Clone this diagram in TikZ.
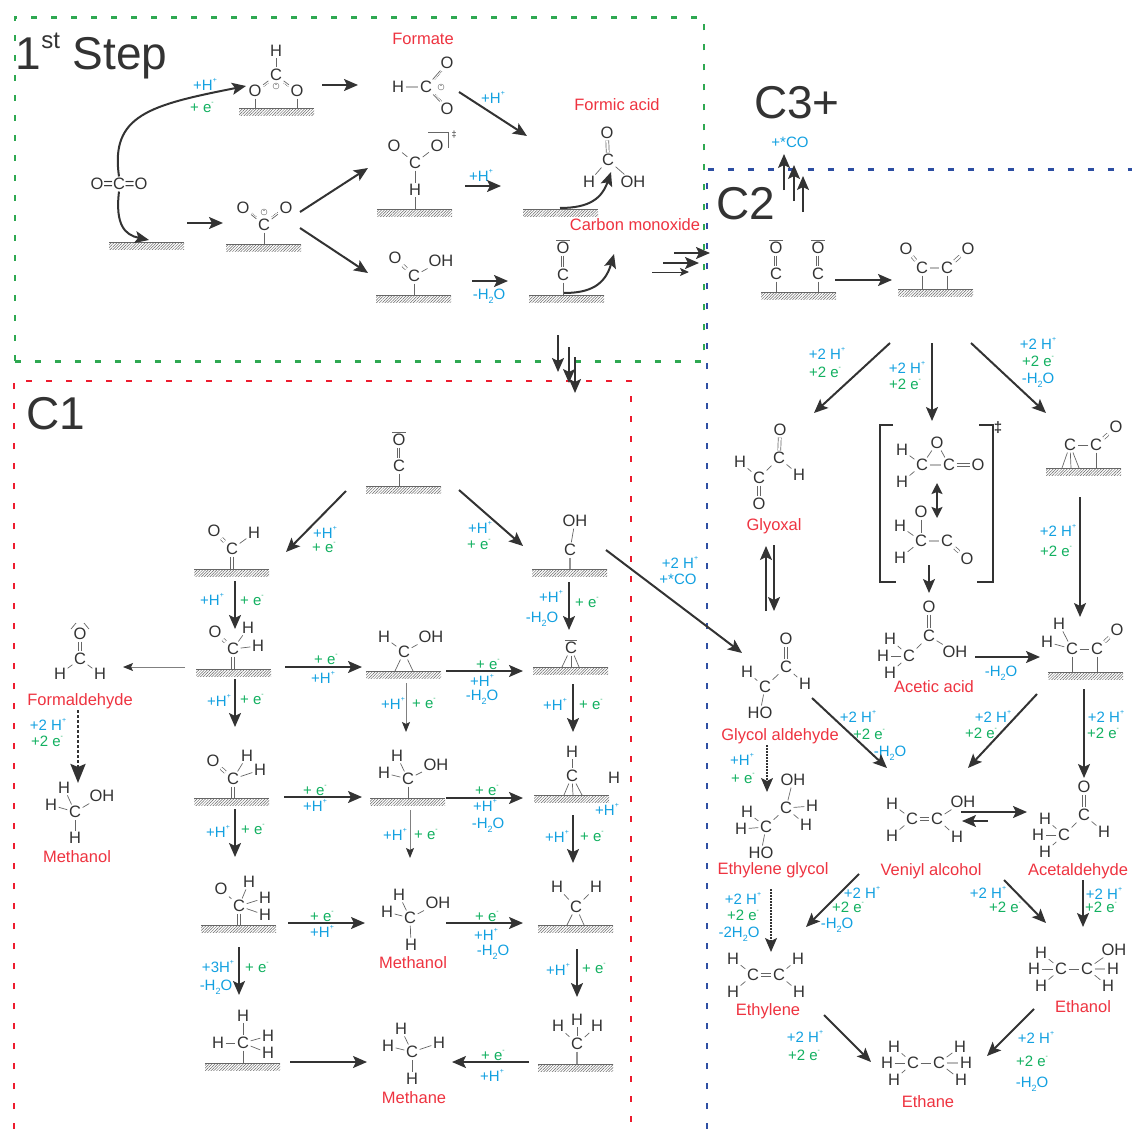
\documentclass[tikz,border=0pt]{standalone}
\usepackage{fontspec}
\setmainfont{Liberation Sans}
\usepackage{xcolor}
\usetikzlibrary{arrows.meta,patterns.meta}
\definecolor{inkdark}{HTML}{333333}
\definecolor{bondgray}{HTML}{666666}
\definecolor{namered}{HTML}{EE3340}
\definecolor{hblue}{HTML}{12A0E0}
\definecolor{egreen}{HTML}{12B060}
\definecolor{stepgreen}{HTML}{2EA851}
\definecolor{oneRed}{HTML}{ED1C2E}
\definecolor{twoBlue}{HTML}{2E4FA3}
\newcommand{\sups}[1]{\raisebox{.55em}{\fontsize{7}{7}\selectfont #1}}
\newcommand{\subs}[1]{\raisebox{-.25em}{\fontsize{9}{9}\selectfont #1}}
\newcommand{\hp}{\textcolor{hblue}{+H\sups{+}}}
\newcommand{\el}{\textcolor{egreen}{+ e\sups{-}}}
\newcommand{\wat}{\textcolor{hblue}{-H\subs{2}O}}
\newcommand{\twohp}{\textcolor{hblue}{+2 H\sups{+}}}
\newcommand{\twoel}{\textcolor{egreen}{+2 e\sups{-}}}
\begin{document}
\begin{tikzpicture}[
  x=1pt, y=-1pt,
  font=\fontsize{15}{17}\selectfont,
  atom/.style={inner sep=1.5pt, text=inkdark, font=\fontsize{16.5}{18}\selectfont},
  lab/.style={inner sep=0pt, text height=11pt, text depth=0pt},
  molname/.style={inner sep=0pt, text height=12pt, text depth=0pt, text=namered, font=\fontsize{16.5}{18}\selectfont},
  title/.style={inner sep=0pt, text height=33pt, text depth=0pt, text=inkdark, font=\fontsize{46}{50}\selectfont},
  surface/.style={anchor=north west, minimum width=75pt, minimum height=7pt, inner sep=0pt, outer sep=0pt, pattern={Lines[angle=45,distance=2pt,line width=.5pt]}, pattern color=bondgray},
  surfline/.style={draw=bondgray, line width=1pt},
  bond/.style={draw=bondgray, line width=.7pt},
  dbond/.style={bond, double, double distance=2.2pt},
  tbond/.style={bond, preaction={draw=bondgray, line width=.7pt, double, double distance=3pt}},
  lbond/.style={draw=bondgray!45, line width=1.5pt},
  hbond/.style={draw=bondgray!70, line width=2pt},
  pbond/.style={bond, postaction={draw=bondgray, line width=.7pt, densely dotted, transform canvas={shift={(#1)}}}},
  charge/.style={circle, draw=bondgray, line width=.4pt, minimum size=6pt, inner sep=0pt, font=\fontsize{6}{6}\selectfont},
  arrow/.style={draw=inkdark, line width=2pt, -{Stealth[length=14pt,width=12pt,inset=3pt]}},
  twoway/.style={draw=inkdark, line width=2pt, {Stealth[length=11pt,width=11pt,inset=2pt]}-{Stealth[length=11pt,width=11pt,inset=2pt]}},
  finearrow/.style={draw=inkdark, line width=1pt, -{Stealth[length=9pt,width=8pt,inset=2pt]}},
  grayarrow/.style={draw=gray, line width=1pt, -{Stealth[length=10pt,width=8pt,inset=2pt,color=inkdark]}},
  dotarrow/.style={draw=inkdark, line width=2.6pt, dash pattern=on 2.5pt off 2.5pt, -{Stealth[length=19pt,width=15pt,inset=3pt]}},
  finedot/.style={arrow, line width=1.2pt, dash pattern=on 1.5pt off 1.5pt},
  stepbox/.style={draw=stepgreen, line width=2.6pt, dash pattern=on 6pt off 14pt},
  onebox/.style={draw=oneRed, line width=2.6pt, dash pattern=on 6pt off 14pt},
  twobox/.style={draw=twoBlue, line width=2.6pt, dash pattern=on 6pt off 14pt},
  bracket/.style={draw=inkdark, line width=1.6pt}
]
  \useasboundingbox (0,0) rectangle (1132,1129);

  \node[stepbox, minimum width=689pt, minimum height=344pt, inner sep=0pt, anchor=north west] (stepframe) at (13.5,16) {};
  \draw[onebox] (14,1129) |- (631,381) -- (631,1129);
  \draw[twobox] (707,1129) |- (1132,169.5);

  \node[title] (steptitle) at (91.5,53) {1\raisebox{.46em}{\fontsize{24}{24}\selectfont st} Step};
  \node[title] (cthree) at (797,102) {C3+};
  \node[title] (ctwo) at (746,203) {C2};
  \node[title] (cone) at (56,413) {C1};

  \foreach \n/\x/\y in {sa/239/109, sb/109/242, sc/226/244, sd/377/209, se/523/209, sf/376/295, sg/529/295,
    sh/761/292, si/898/289, sj/1046/468, sk/1048/672,
    sl/366/486, sm/194/569, sn/532/569, so/196/669, sp/366/671, sq/533/667, sr/194/798, ss/370/798, st/534/795,
    su/201/925, sv/538/925, sw/205/1063, sx/538/1064}
  {
    \node[surface] (\n) at (\x,\y) {};
    \draw[surfline] (\n.north west) -- (\n.north east);
  }

  \node[atom] (co) at (119,184) {O=C=O};
  \foreach \n/\x/\y/\txt in {fH/276/51/H, fC/276/75/C, fOa/255/91/O, fOb/297/91/O,
    cOa/243/208/O, cOb/286/208/O, cC/264/225/C,
    gOa/447/63/O, gH/398/87/H, gC/426/87/C, gOb/447/109/O,
    tOa/394/146/O, tOb/437/146/O, tC/415/163/C, tH/415/190/H,
    aO/607/133/O, aC/608/160/C, aH/589/182/H, aOH/633/182/OH,
    xO/395/258/O, xOH/441/261/OH, xC/414/276/C,
    mO/563/248/O, mC/563/275/C,
    dOa/776/248/O, dCa/776/274/C, dOb/818/248/O, dCb/818/274/C,
    eOa/906/249/O, eCa/922/268/C, eCb/947/268/C, eOb/968/249/O,
    yOa/780/430/O, yCa/779/458/C, yHa/740/462/H, yCb/759/478/C, yHb/799/475/H, yOb/759/504/O,
    uHa/902/450/H, uCa/922/465/C, uO/937/443/O, uCb/949/465/C, uOb/978/465/O, uHb/902/482/H,
    vO/921/512/O, vHa/900/526/H, vCa/921/541/C, vCb/947/541/C, vOb/967/559/O, vHb/900/558/H,
    kO/929/607/O, kC/929/636/C, kOH/955/652/OH, kCb/909/656/C, kHa/890/639/H, kHb/883/656/H, kHc/890/673/H,
    nO/1116/427/O, nCa/1096/445/C, nCb/1070/445/C,
    pHa/1059/624/H, pHb/1047/642/H, pCa/1072/649/C, pCb/1097/649/C, pO/1117/630/O,
    qO/786/639/O, qCa/786/667/C, qHa/747/672/H, qCb/765/687/C, qHb/805/684/H, qHO/760/713/HO,
    rOH/793/780/OH, rCa/786/808/C, rHa/812/806/H, rHb/806/825/H, rCb/766/827/C, rHc/747/812/H, rHd/741/829/H, rHO/761/853/HO,
    wHa/733/959/H, wCa/753/975/C, wCb/779/975/C, wHb/798/959/H, wHc/733/992/H, wHd/799/992/H,
    oHa/892/804/H, oCa/912/819/C, oCb/937/819/C, oOH/963/802/OH, oHb/892/836/H, oHc/957/837/H,
    hO/1084/787/O, hCa/1084/815/C, hH/1104/832/H, hCb/1064/835/C, hHa/1045/819/H, hHb/1038/835/H, hHc/1045/852/H,
    iOH/1114/950/OH, iHa/1041/953/H, iHb/1034/969/H, iCa/1061/969/C, iCb/1087/969/C, iHc/1113/969/H, iHd/1041/986/H, iHe/1108/986/H,
    jHa/894/1047/H, jHb/887/1063/H, jCa/913/1063/C, jCb/939/1063/C, jHc/960/1047/H, jHd/966/1063/H, jHe/894/1080/H, jHf/961/1080/H,
    bO/399/440/O, bC/399/466/C,
    lO/214/531/O, lH/254/533/H, lC/232/549/C,
    zOH/575/521/OH, zC/570/550/C,
    AO/215/632/O, AHa/248/628/H, AC/233/649/C, AHb/258/646/H,
    BH/384/637/H, BOH/431/637/OH, BC/404/652/C,
    DC/571/648/C,
    EO/80/634/O, EC/80/659/C, EHa/60/674/H, EHb/100/674/H,
    GHa/64/788/H, GOH/102/796/OH, GHb/51/805/H, GC/75/812/C, GHc/75/838/H,
    IO/213/761/O, IHa/247/756/H, IHb/260/770/H, IC/233/779/C,
    JOH/436/765/OH, JHa/397/756/H, JHb/384/773/H, JC/408/779/C,
    KH/572/752/H, KC/572/776/C, KHb/614/778/H,
    LO/221/889/O, LHa/249/882/H, LHb/265/898/H, LC/239/906/C, LHc/265/915/H,
    MHa/399/895/H, MOH/438/903/OH, MHb/387/912/H, MC/410/918/C, MHc/411/945/H,
    NHa/557/887/H, NHb/596/887/H, NC/576/907/C,
    PHa/243/1016/H, PHb/218/1043/H, PC/243/1043/C, PHc/268/1036/H, PHd/268/1053/H,
    QHa/401/1029/H, QHb/388/1046/H, QC/412/1052/C, QHc/439/1043/H, QHd/412/1079/H,
    RHa/558/1026/H, RHb/577/1020/H, RHc/597/1026/H, RC/577/1044/C}
    \node[atom] (\n) at (\x,\y) {\txt};

  \foreach \a/\b in {fH/fC, tOa/tC, tOb/tC, tC/tH, aC/aH, aC/aOH, xOH/xC,
    yCa/yCb, yCa/yHb, yCb/yHa, uHa/uCa, uHb/uCa, uCa/uO, uO/uCb,
    vO/vCa, vHa/vCa, vHb/vCa, kC/kOH, kC/kCb, kCb/kHa, kCb/kHb, kCb/kHc,
    nCa/nCb, pHa/pCa, pHb/pCa, pCa/pCb, qCa/qCb, qCa/qHb, qCb/qHa, qCb/qHO,
    rOH/rCa, rCa/rHa, rCa/rHb, rCa/rCb, rCb/rHc, rCb/rHd, rCb/rHO,
    wHa/wCa, wHc/wCa, wCb/wHb, wCb/wHd, oHa/oCa, oHb/oCa, oCb/oOH, oCb/oHc,
    hCa/hH, hCa/hCb, hCb/hHa, hCb/hHb, hCb/hHc,
    iOH/iCb, iHa/iCa, iHb/iCa, iCa/iCb, iHd/iCa, iCb/iHe,
    jHa/jCa, jHb/jCa, jCa/jCb, jCb/jHc, jHe/jCa, jCb/jHf,
    lH/lC, zOH/zC, AHa/AC, AHb/AC, BH/BC, BOH/BC, EC/EHa, EC/EHb,
    GHa/GC, GOH/GC, GHb/GC, GHc/GC, IHa/IC, IHb/IC, JOH/JC, JHa/JC, JHb/JC,
    KH/KC, LHa/LC, LHb/LC, LHc/LC, LO/LC, MHa/MC, MOH/MC, MHb/MC, MHc/MC, NHa/NC, NHb/NC,
    PHa/PC, PHb/PC, PHc/PC, PHd/PC, QHa/QC, QHb/QC, QHc/QC, QHd/QC, RHa/RC, RHb/RC, RHc/RC}
    \draw[bond] (\a) -- (\b);

  \foreach \a/\b in {gH/gC, eCa/eCb, uCa/uCb, vCa/vCb, iCb/iHc, jCb/jHd}
    \draw[lbond] (\a) -- (\b);

  \foreach \a/\b in {aO/aC, xO/xC, eOa/eCa, eOb/eCb, yOa/yCa, yCb/yOb, uCb/uOb, vCb/vOb, kO/kC, nO/nCa, pCb/pO,
    qO/qCa, wCa/wCb, oCa/oCb, hO/hCa, lO/lC, AO/AC, EO/EC, IO/IC}
    \draw[dbond] (\a) -- (\b);

  \foreach \a/\b in {mO/mC, dOa/dCa, dOb/dCb, bO/bC}
    \draw[tbond] (\a) -- (\b);

  \foreach \a/\b in {fOa/sa, fOb/sa, cC/sc, tH/sd, xC/sf, mC/sg, dCa/sh, dCb/sh, eCa/si, eCb/si,
    nCa/sj, pCa/sk, pCb/sk, bC/sl, JC/ss, PC/sw}
    \draw[bond] (\a) -- (\a |- \b.north);

  \foreach \a/\b in {lC/sm, AC/so, IC/sr, LC/su}
    \draw[dbond] (\a) -- (\a |- \b.north);

  \foreach \a/\b in {zC/sn, RC/sx}
    \draw[hbond] (\a) -- (\a |- \b.north);

  \foreach \a/\b/\x in {nCb/sj/1062, nCb/sj/1071, nCb/sj/1079, BC/sp/395, BC/sp/413,
    DC/sq/562, DC/sq/571, DC/sq/579, KC/st/564, KC/st/573, KC/st/582, NC/sv/567, NC/sv/584}
    \draw[bond] (\a) -- (\x,0 |- \b.north);

  \draw[pbond={0pt,-2.2pt}] (fC) -- (fOa);
  \draw[pbond={0pt,-2.2pt}] (fC) -- (fOb);
  \draw[pbond={0pt,2.2pt}] (cC) -- (cOa);
  \draw[pbond={0pt,2.2pt}] (cC) -- (cOb);
  \draw[pbond={2.2pt,0pt}] (gC) -- (gOa);
  \draw[pbond={2.2pt,0pt}] (gC) -- (gOb);
  \node[charge] (fminus) at (276,86) {-};
  \node[charge] (cminus) at (264,212) {-};
  \node[charge] (gminus) at (441,87) {-};

  \foreach \a in {mO, dOa, dOb, bO, DC}
    \draw[bond, shorten <=1.5pt, shorten >=1.5pt] (\a.north west) -- (\a.north east);
  \draw[bond] ([shift={(-9,-5)}]EO.center) -- ([shift={(-4,-11)}]EO.center);
  \draw[bond] ([shift={(4,-11)}]EO.center) -- ([shift={(9,-5)}]EO.center);

  \draw[bond] (428,132) -- (448,132) -- (448,148);
  \node[inner sep=0pt, text=inkdark, font=\fontsize{9}{9}\selectfont] (tsmark) at (454,135) {‡};
  \draw[bracket] (893,425) -| (880,582) -- (896,582);
  \draw[bracket] (979,425) -| (993,582) -- (977,582);
  \node[inner sep=0pt, text=inkdark, font=\bfseries\fontsize{15}{15}\selectfont] (brmark) at (998,428) {‡};

  \foreach \n/\x/\y/\txt in {nFormate/423/39/Formate, nFormic/617/105/Formic acid, nCO/635/224/Carbon monoxide,
    nGlyoxal/774/524/Glyoxal, nAcetic/934/686/Acetic acid, nGlycol/780/734/Glycol aldehyde,
    nEG/773/868/Ethylene glycol, nVinyl/931/869/Veniyl alcohol, nAcet/1078/869/Acetaldehyde,
    nEthylene/768/1009/Ethylene, nEthanol/1083/1006/Ethanol, nEthane/928/1101/Ethane,
    nFormald/80/699/Formaldehyde, nMeOHa/77/856/Methanol, nMeOHb/413/962/Methanol, nMethane/414/1097/Methane}
    \node[molname] (\n) at (\x,\y) {\txt};

  \foreach[count=\i] \x/\y/\txt in {205/85/\hp, 202/107/\el, 493/98/\hp, 481/176/\hp, 489/294/\wat,
    827/354/\twohp, 825/372/\twoel, 907/368/\twohp, 905/384/\twoel, 1038/344/\twohp, 1038/361/\twoel, 1038/378/\wat,
    1058/531/\twohp, 1056/551/\twoel, 1001/671/\wat, 1106/717/\twohp, 1103/733/\twoel, 993/717/\twohp, 981/733/\twoel,
    858/717/\twohp, 869/734/\twoel, 890/751/\wat, 680/563/\twohp,
    742/760/\hp, 743/778/\el, 743/899/\twohp, 743/915/\twoel,
    862/893/\twohp, 848/907/\twoel, 837/923/\wat, 988/893/\twohp, 1005/907/\twoel, 1104/894/\twohp, 1101/907/\twoel,
    1036/1038/\twohp, 1032/1061/\twoel, 1032/1082/\wat, 805/1037/\twohp, 804/1055/\twoel,
    325/533/\hp, 324/547/\el, 480/528/\hp, 479/544/\el, 212/600/\hp, 252/600/\el,
    48/725/\twohp, 47/741/\twoel, 219/701/\hp, 252/699/\el, 326/659/\el, 323/678/\hp,
    488/664/\el, 482/681/\hp, 482/695/\wat, 555/705/\hp, 591/704/\el,
    551/597/\hp, 587/602/\el, 542/617/\wat, 393/704/\hp, 424/703/\el,
    315/790/\el, 315/806/\hp, 218/832/\hp, 253/829/\el, 487/790/\el, 485/806/\hp, 488/823/\wat,
    395/835/\hp, 426/834/\el, 607/810/\hp, 557/837/\hp, 592/836/\el,
    322/916/\el, 322/932/\hp, 218/967/\textcolor{hblue}{+3H\sups{+}}, 257/967/\el, 216/985/\wat,
    487/916/\el, 486/935/\hp, 493/950/\wat, 558/970/\hp, 594/968/\el, 493/1055/\el, 492/1076/\hp}
    \node[lab] (note\i) at (\x,\y) {\txt};
  \node[lab, text=hblue] (plusco) at (790,142) {+*CO};
  \node[lab, text=hblue] (pluscob) at (678,579) {+*CO};
  \node[lab] (twoh) at (739,932) {\textcolor{hblue}{-2H\subs{2}O}};

  \foreach \n/\xa/\ya/\xb/\yb in {ra/322/85/358/85, rb/459/92/527/136, rc/187/223/223/223, rd/300/212/368/168, re/300/228/368/273,
    rf/465/186/501/186, rg/472/281/508/281, rh/674/253/710/253, ri/663/263/699/263,
    rj/558/335/558/372, rk/569/347/569/383, rl/575/357/575/393,
    rm/784/190/784/154, rn/794/201/794/165, ro/803/212/803/176, rp/835/280/892/280,
    rq/890/343/814/413, rr/932/343/932/421, rs/971/343/1046/413,
    rt/766/611/766/546, ru/774/545/774/611, rv/929/565/929/593, rw/975/657/1040/657,
    rx/1080/497/1080/617, ry/1084/689/1084/778, rz/1037/694/968/768, sba/812/698/887/768,
    sbb/606/550/742/653, sbc/961/812/1027/812, sbd/988/821/962/821,
    sbe/859/874/806/927, sbf/1004/880/1046/923, sbg/1083/880/1083/927,
    sbh/1034/1009/987/1056, sbi/824/1015/871/1062,
    sbj/346/491/286/552, sbk/459/490/523/546, sbl/235/581/235/629, sbm/569/582/569/630,
    sbn/235/679/235/727, sbo/285/667/362/667, sbp/446/671/523/671, sbq/573/684/573/732,
    sbr/284/797/362/797, sbs/235/809/235/857, sbt/446/798/523/798, sbu/573/815/573/863,
    sbv/288/923/365/923, sbw/239/947/239/995, sbx/446/923/523/923, sby/577/949/577/997,
    sbz/290/1062/367/1062, sca/529/1062/452/1062}
  {
    \coordinate (\n s) at (\xa,\ya);
    \coordinate (\n e) at (\xb,\yb);
    \draw[arrow] (\n s) -- (\n e);
  }

  \coordinate (tfs) at (652,272);
  \coordinate (tfe) at (689,272);
  \draw[finearrow] (tfs) -- (tfe);
  \coordinate (gas) at (406,683);
  \coordinate (gae) at (406,732);
  \draw[grayarrow] (gas) -- (gae);
  \coordinate (gbs) at (410,810);
  \coordinate (gbe) at (410,858);
  \draw[grayarrow] (gbs) -- (gbe);
  \coordinate (gcs) at (185,667);
  \coordinate (gce) at (123,667);
  \draw[grayarrow] (gcs) -- (gce);
  \coordinate (tws) at (937,483);
  \coordinate (twe) at (937,518);
  \draw[twoway] (tws) -- (twe);
  \coordinate (dos) at (78,710);
  \coordinate (doe) at (78,783);
  \draw[dotarrow] (dos) -- (doe);
  \coordinate (dps) at (767,745);
  \coordinate (dpe) at (767,792);
  \draw[finedot] (dps) -- (dpe);
  \coordinate (dqs) at (771,889);
  \coordinate (dqe) at (771,952);
  \draw[finedot] (dqs) -- (dqe);

  \coordinate (fhead) at (246,86);
  \coordinate (shead) at (149,240);
  \coordinate (fstart) at (560,208);
  \coordinate (fend) at (611,172);
  \coordinate (ostart) at (564,293);
  \coordinate (oend) at (614,254);
  \draw[arrow] (co.north) .. controls (110,115) and (150,105) .. (fhead);
  \draw[arrow] (co.south) .. controls (115,225) and (125,235) .. (shead);
  \draw[arrow] (fstart) .. controls (590,208) and (602,198) .. (fend);
  \draw[arrow] (ostart) .. controls (590,293) and (605,285) .. (oend);
\end{tikzpicture}
\end{document}
